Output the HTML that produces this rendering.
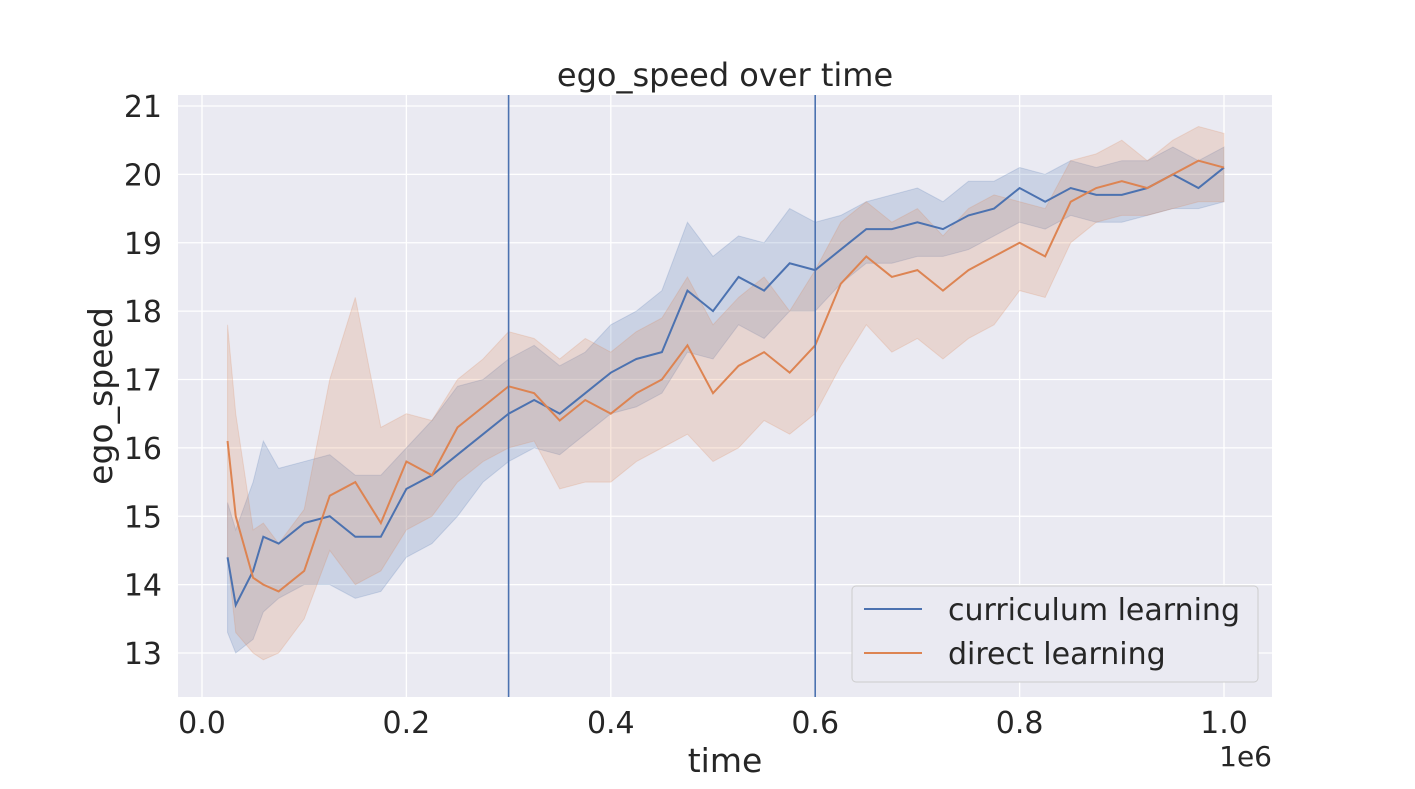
<!DOCTYPE html>
<html><head><meta charset="utf-8"><style>
body{margin:0;background:#fff;}
svg text{font-family:"DejaVu Sans","Liberation Sans",sans-serif;fill:#262626;}
</style></head><body>
<svg id="chart" width="1415" height="784" xmlns="http://www.w3.org/2000/svg">
<rect x="178" y="95" width="1094" height="602" fill="#eaeaf2"/>
<g id="grid"></g>
<g id="bands"></g>
<g id="lines"></g>
<g id="ticks"></g>
<text x="725" y="86" font-size="32" text-anchor="middle">ego_speed over time</text>
<text x="725" y="772" font-size="33" text-anchor="middle">time</text>
<text x="112" y="396" font-size="33" text-anchor="middle" transform="rotate(-90 112 396)">ego_speed</text>
<text x="1272" y="766" font-size="28" text-anchor="end">1e6</text>
<g>
<rect x="852" y="586" width="406" height="96" rx="4" fill="#eaeaf2" stroke="#cccccc"/>
<line x1="864" y1="609" x2="922" y2="609" stroke="#4c72b0" stroke-width="2"/>
<text x="948" y="620" font-size="30">curriculum learning</text>
<line x1="864" y1="653" x2="922" y2="653" stroke="#dd8452" stroke-width="2"/>
<text x="948" y="664" font-size="30">direct learning</text>
</g>
</svg>
<script>
const xs=[0.025,0.033,0.05,0.06,0.075,0.1,0.125,0.15,0.175,0.2,0.225,0.25,0.275,0.3,0.325,0.35,0.375,0.4,0.425,0.45,0.475,0.5,0.525,0.55,0.575,0.6,0.625,0.65,0.675,0.7,0.725,0.75,0.775,0.8,0.825,0.85,0.875,0.9,0.925,0.95,0.975,1.0];
const curMean=[14.4,13.7,14.2,14.7,14.6,14.9,15.0,14.7,14.7,15.4,15.6,15.9,16.2,16.5,16.7,16.5,16.8,17.1,17.3,17.4,18.3,18.0,18.5,18.3,18.7,18.6,18.9,19.2,19.2,19.3,19.2,19.4,19.5,19.8,19.6,19.8,19.7,19.7,19.8,20.0,19.8,20.1];
const curLo=[13.3,13.0,13.2,13.6,13.8,14.0,14.0,13.8,13.9,14.4,14.6,15.0,15.5,15.8,16.0,15.9,16.2,16.5,16.6,16.8,17.4,17.3,17.8,17.6,18.0,18.0,18.4,18.7,18.7,18.8,18.8,18.9,19.1,19.3,19.2,19.4,19.3,19.3,19.4,19.5,19.5,19.6];
const curHi=[15.2,14.8,15.5,16.1,15.7,15.8,15.9,15.6,15.6,16.0,16.4,16.9,17.0,17.3,17.5,17.2,17.4,17.8,18.0,18.3,19.3,18.8,19.1,19.0,19.5,19.3,19.4,19.6,19.7,19.8,19.6,19.9,19.9,20.1,20.0,20.2,20.1,20.2,20.2,20.4,20.2,20.4];
const dirMean=[16.1,15.0,14.1,14.0,13.9,14.2,15.3,15.5,14.9,15.8,15.6,16.3,16.6,16.9,16.8,16.4,16.7,16.5,16.8,17.0,17.5,16.8,17.2,17.4,17.1,17.5,18.4,18.8,18.5,18.6,18.3,18.6,18.8,19.0,18.8,19.6,19.8,19.9,19.8,20.0,20.2,20.1];
const dirLo=[14.4,13.3,13.0,12.9,13.0,13.5,14.5,14.0,14.2,14.8,15.0,15.5,15.8,16.0,16.1,15.4,15.5,15.5,15.8,16.0,16.2,15.8,16.0,16.4,16.2,16.5,17.2,17.8,17.4,17.6,17.3,17.6,17.8,18.3,18.2,19.0,19.3,19.4,19.4,19.5,19.6,19.6];
const dirHi=[17.8,16.5,14.8,14.9,14.6,15.1,17.0,18.2,16.3,16.5,16.4,17.0,17.3,17.7,17.6,17.3,17.6,17.4,17.7,17.9,18.5,17.8,18.2,18.5,18.0,18.6,19.3,19.6,19.3,19.5,19.1,19.5,19.7,19.6,19.5,20.2,20.3,20.5,20.2,20.5,20.7,20.6];
const xTicks=[0,0.2,0.4,0.6,0.8,1.0];
const xTickLabels=["0.0","0.2","0.4","0.6","0.8","1.0"];
const yTicks=[13,14,15,16,17,18,19,20,21];
const phaseLines=[0.3,0.6];
const NS="http://www.w3.org/2000/svg";
const X=v=>202+v*1022, Y=v=>653-(v-13)*68.375;
function mk(t,a,p){const e=document.createElementNS(NS,t);for(const k in a)e.setAttribute(k,a[k]);p.appendChild(e);return e;}
const grid=document.getElementById('grid'),ticks=document.getElementById('ticks'),bands=document.getElementById('bands'),lines=document.getElementById('lines');
xTicks.forEach((v,i)=>{
 const l=mk('line',{x1:X(v),x2:X(v),y1:95,y2:697,stroke:'#fff','stroke-width':1.3},grid);
 
 
 const t=mk('text',{x:X(v),y:733,'font-size':30,'text-anchor':'middle'},ticks);t.textContent=xTickLabels[i];
 
 
});
yTicks.forEach(v=>{
 const l=mk('line',{x1:178,x2:1272,y1:Y(v),y2:Y(v),stroke:'#fff','stroke-width':1.3},grid);
 
 
 const t=mk('text',{x:162,y:Y(v)+11,'font-size':30,'text-anchor':'end'},ticks);t.textContent=v;
 
 
});
function band(lo,hi,col,name){
 let d='M'+xs.map((x,i)=>X(x)+','+Y(hi[i])).join('L');
 d+='L'+xs.map((x,i)=>X(x)+','+Y(lo[i])).reverse().join('L')+'Z';
 const p=mk('path',{d:d,fill:col,'fill-opacity':0.2,stroke:col,'stroke-opacity':0.2},bands);
 
 
}
function line(m,col,name){
 const p=mk('path',{d:'M'+xs.map((x,i)=>X(x)+','+Y(m[i])).join('L'),fill:'none',stroke:col,'stroke-width':2},lines);
 
 
}
band(curLo,curHi,'#4c72b0','curriculum-ci-band');
band(dirLo,dirHi,'#dd8452','direct-ci-band');
line(curMean,'#4c72b0','curriculum-line');
line(dirMean,'#dd8452','direct-line');
phaseLines.forEach(v=>{
 const l=mk('line',{x1:X(v),x2:X(v),y1:95,y2:697,stroke:'#4c72b0','stroke-width':1.6},lines);
 
 
});
</script>
</body></html>
